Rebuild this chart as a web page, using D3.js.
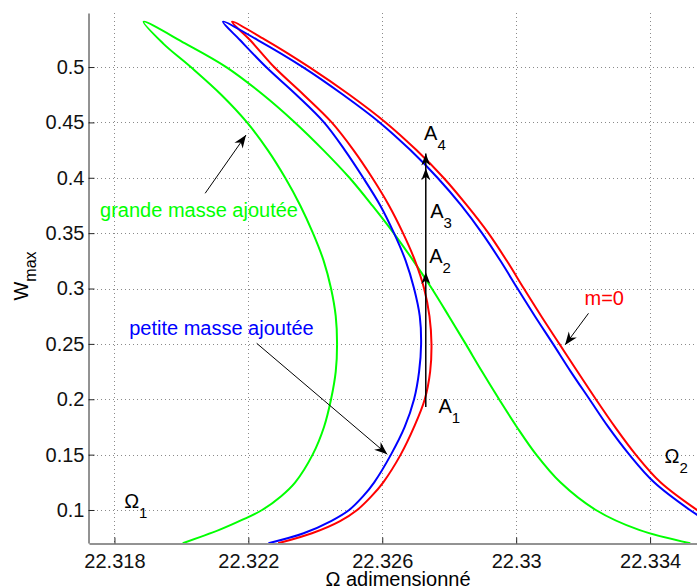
<!DOCTYPE html>
<html><head><meta charset="utf-8">
<script src="https://cdn.jsdelivr.net/npm/d3@7"></script>
<style>
body{margin:0;background:#fff}
svg{display:block}
text{font-family:"Liberation Sans",Arial,Helvetica,sans-serif}
</style>
</head><body>
<svg id="chart" width="697" height="588"></svg>
<script>
// ---------- data ----------
const xTicks = [22.318, 22.322, 22.326, 22.330, 22.334];
const xTickLabels = ["22.318", "22.322", "22.326", "22.33", "22.334"];
const yTicks = [0.1, 0.15, 0.2, 0.25, 0.3, 0.35, 0.4, 0.45, 0.5];
const yTickLabels = ["0.1", "0.15", "0.2", "0.25", "0.3", "0.35", "0.4", "0.45", "0.5"];
const xDomain = [22.31724, 22.33570];
const yDomain = [0.0702, 0.5488];

// m = 0 (red): lower branch up to the tip, then upper branch down
const redOmega = [22.32289, 22.32390, 22.32474, 22.32525, 22.32568, 22.32603, 22.32655, 22.32695, 22.32727, 22.32743,
  22.32747, 22.32741, 22.32725, 22.32698, 22.32662, 22.32620, 22.32570, 22.32514, 22.32449, 22.32365, 22.32277,
  22.32205, 22.32151,
  22.32252, 22.32382, 22.32502, 22.32610, 22.32702, 22.32783, 22.32853, 22.32917, 22.32972, 22.33023,
  22.33075, 22.33129, 22.33183, 22.33238, 22.33295, 22.33357, 22.33431, 22.33540, 22.33592];
const redW = [0.07, 0.079, 0.09, 0.1, 0.1125, 0.125, 0.15, 0.175, 0.2, 0.225,
  0.25, 0.275, 0.3, 0.325, 0.35, 0.375, 0.4, 0.425, 0.45, 0.475, 0.5,
  0.5244, 0.5409,
  0.5244, 0.5, 0.475, 0.45, 0.425, 0.4, 0.375, 0.35, 0.325, 0.3,
  0.275, 0.25, 0.225, 0.2, 0.175, 0.15, 0.125, 0.1, 0.09];

// petite masse ajoutée (blue)
const blueOmega = [22.32260, 22.32365, 22.32447, 22.32501, 22.32543, 22.32576, 22.32626, 22.32667, 22.32695, 22.32710,
  22.32716, 22.32712, 22.32695, 22.32670, 22.32635, 22.32594, 22.32543, 22.32488, 22.32426, 22.32343, 22.32253,
  22.32175, 22.32124,
  22.32228, 22.32363, 22.32483, 22.32592, 22.32684, 22.32765, 22.32836, 22.32898, 22.32953, 22.33004,
  22.33056, 22.33110, 22.33163, 22.33219, 22.33275, 22.33338, 22.33412, 22.33519, 22.33571];
const blueW = [0.07, 0.079, 0.09, 0.1, 0.1125, 0.125, 0.15, 0.175, 0.2, 0.225,
  0.25, 0.275, 0.3, 0.325, 0.35, 0.375, 0.4, 0.425, 0.45, 0.475, 0.5,
  0.5244, 0.5409,
  0.5244, 0.5, 0.475, 0.45, 0.425, 0.4, 0.375, 0.35, 0.325, 0.3,
  0.275, 0.25, 0.225, 0.2, 0.175, 0.15, 0.125, 0.1, 0.09];

// grande masse ajoutée (green)
const greenOmega = [22.32004, 22.32113, 22.32181, 22.32241, 22.32298, 22.32340, 22.32392, 22.32426, 22.32447, 22.32461,
  22.32465, 22.32461, 22.32447, 22.32425, 22.32393, 22.32355, 22.32310, 22.32258, 22.32196, 22.32119, 22.32028,
  22.31945, 22.31887,
  22.32011, 22.32134, 22.32244, 22.32339, 22.32424, 22.32502, 22.32570, 22.32634, 22.32693, 22.32748,
  22.32799, 22.32849, 22.32898, 22.32949, 22.33002, 22.33060, 22.33132, 22.33238, 22.33367, 22.33520];
const greenW = [0.07, 0.082, 0.091, 0.1, 0.1125, 0.125, 0.15, 0.175, 0.2, 0.225,
  0.25, 0.275, 0.3, 0.325, 0.35, 0.375, 0.4, 0.425, 0.45, 0.475, 0.5,
  0.5214, 0.5409,
  0.5214, 0.5, 0.475, 0.45, 0.425, 0.4, 0.375, 0.35, 0.325, 0.3,
  0.275, 0.25, 0.225, 0.2, 0.175, 0.15, 0.125, 0.1, 0.082, 0.07];

// jump path A1 -> A2 -> A3 -> A4
const jumpOmega = 22.32730;
const jumpW = [0.193, 0.315, 0.4085, 0.422];
const jumpLabels = ["1", "2", "3", "4"];
const jumpLabelOmega = [22.32768, 22.32740, 22.32743, 22.32725];
const jumpLabelW = [0.1879, 0.3228, 0.3634, 0.4341];

// annotations
const annLabels = ["grande masse ajoutée", "petite masse ajoutée", "m=0"];
const annColors = ["#00ff00", "#0000ff", "#ff0000"];
const annTextOmega = [22.31757, 22.31844, 22.33204];
const annTextW = [0.3646, 0.2580, 0.2851];
const annFromOmega = [22.32071, 22.32225, 22.33216];
const annFromW = [0.3860, 0.2505, 0.2776];
const annToOmega = [22.32193, 22.32615, 22.33146];
const annToW = [0.4386, 0.1503, 0.2490];

// Ω1 / Ω2 markers
const omegaMarkSub = ["1", "2"];
const omegaMarkOmega = [22.31829, 22.33443];
const omegaMarkW = [0.1015, 0.1422];

// ---------- drawing ----------
const svg = d3.select("#chart");
const L = 89, R = 707, T = 13, B = 543;
const x = d3.scaleLinear().domain(xDomain).range([L, R]);
const y = d3.scaleLinear().domain(yDomain).range([B, T]);

svg.append("defs").append("clipPath").attr("id", "clip")
  .append("rect").attr("x", L).attr("y", T).attr("width", R - L).attr("height", B - T);

// grid
const grid = svg.append("g").attr("stroke", "#8a8a8a").attr("stroke-width", 1).attr("stroke-dasharray", "1,3");
grid.selectAll(".vg").data(xTicks).join("line")
  .attr("x1", d => Math.round(x(d)) + 0.5).attr("x2", d => Math.round(x(d)) + 0.5)
  .attr("y1", T).attr("y2", B);
grid.selectAll(".hg").data(yTicks).join("line")
  .attr("x1", L).attr("x2", R)
  .attr("y1", d => Math.round(y(d)) + 0.5).attr("y2", d => Math.round(y(d)) + 0.5);

// curves
const line = d3.line().x(d => x(d[0])).y(d => y(d[1])).curve(d3.curveCatmullRom.alpha(0.5));
const curves = [
  {o: greenOmega, w: greenW, c: "#00ff00"},
  {o: redOmega, w: redW, c: "#ff0000"},
  {o: blueOmega, w: blueW, c: "#0000ff"}
];
const cg = svg.append("g").attr("clip-path", "url(#clip)");
curves.forEach(cv => {
  cg.append("path").datum(cv.o.map((o, i) => [o, cv.w[i]]))
    .attr("d", line).attr("fill", "none").attr("stroke", cv.c)
    .attr("stroke-width", 2).attr("stroke-linejoin", "round");
});

// axes
const xAxis = d3.axisBottom(x).tickValues(xTicks).tickFormat((d, i) => xTickLabels[i])
  .tickSizeInner(-6).tickSizeOuter(0).tickPadding(10);
const yAxis = d3.axisLeft(y).tickValues(yTicks).tickFormat((d, i) => yTickLabels[i])
  .tickSizeInner(-6).tickSizeOuter(0).tickPadding(4);
const gx = svg.append("g").attr("transform", `translate(0,${B + 0.5})`).call(xAxis);
const gy = svg.append("g").attr("transform", `translate(${L - 0.5},0)`).call(yAxis);
[gx, gy].forEach(g => {
  g.attr("font-size", null).attr("font-family", null).style("color", "#262626");
  g.selectAll("text").attr("font-size", 20).attr("fill", "#111");
});

// arrowhead helper
function arrowHead(g, x1, y1, x2, y2, len, half, notch) {
  const a = Math.atan2(y2 - y1, x2 - x1);
  const ca = Math.cos(a), sa = Math.sin(a);
  const p = (u, v) => [x2 - u * ca - v * sa, y2 - u * sa + v * ca];
  const pts = [[x2, y2], p(len, half), p(len - notch, 0), p(len, -half)];
  g.append("path").attr("d", "M" + pts.map(q => q.join(",")).join("L") + "Z").attr("fill", "#000");
}

// annotation arrows and labels
const ag = svg.append("g");
annLabels.forEach((lab, i) => {
  const x1 = x(annFromOmega[i]), y1 = y(annFromW[i]), x2 = x(annToOmega[i]), y2 = y(annToW[i]);
  ag.append("line").attr("x1", x1).attr("y1", y1).attr("x2", x2).attr("y2", y2)
    .attr("stroke", "#000").attr("stroke-width", 1);
  arrowHead(ag, x1, y1, x2, y2, 13, 5, 4);
  ag.append("text").attr("x", x(annTextOmega[i])).attr("y", y(annTextW[i]))
    .attr("font-size", 20).attr("fill", annColors[i]).text(lab);
});

// jump A1 -> A4
const jx = x(jumpOmega);
ag.append("line").attr("x1", jx).attr("x2", jx).attr("y1", y(jumpW[0])).attr("y2", y(jumpW[3]))
  .attr("stroke", "#000").attr("stroke-width", 1.5);
for (let i = 1; i < jumpW.length; i++) {
  arrowHead(ag, jx, y(jumpW[i - 1]), jx, y(jumpW[i]), 12, 4.5, 3.5);
}
jumpLabels.forEach((s, i) => {
  const t = ag.append("text").attr("x", x(jumpLabelOmega[i])).attr("y", y(jumpLabelW[i]))
    .attr("font-size", 20).attr("fill", "#000");
  t.append("tspan").text("A");
  t.append("tspan").attr("font-size", 15).attr("dy", 10).text(s);
});

omegaMarkSub.forEach((s, i) => {
  const t = ag.append("text").attr("x", x(omegaMarkOmega[i])).attr("y", y(omegaMarkW[i]))
    .attr("font-size", 20).attr("fill", "#000");
  t.append("tspan").text("Ω");
  t.append("tspan").attr("font-size", 15).attr("dy", 10).text(s);
});

// axis titles
svg.append("text").attr("x", (L + R) / 2).attr("y", 586).attr("text-anchor", "middle")
  .attr("font-size", 20).attr("fill", "#000").text("Ω adimensionné");
const yt = svg.append("text").attr("transform", "translate(28,276) rotate(-90)")
  .attr("text-anchor", "middle").attr("font-size", 20).attr("fill", "#000");
yt.append("tspan").text("W");
yt.append("tspan").attr("font-size", 16).attr("dy", 8).text("max");
</script>
</body></html>
